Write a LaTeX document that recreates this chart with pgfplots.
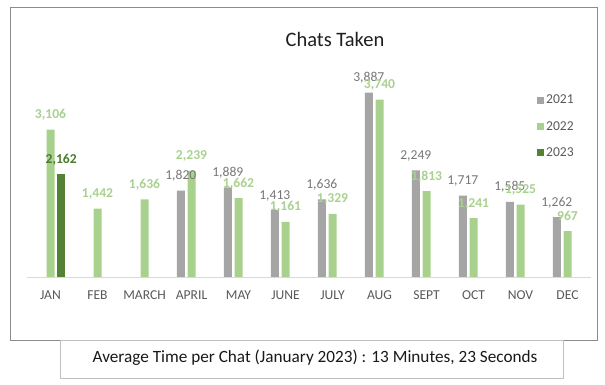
\documentclass[border=0pt]{standalone}
\usepackage{fontspec}
\setmainfont{Carlito}
\usepackage{pgfplots}
\pgfplotsset{compat=1.18}
\definecolor{c21}{HTML}{A5A5A5}
\definecolor{c22}{HTML}{A9D18E}
\definecolor{c23}{HTML}{548235}
\definecolor{t23}{HTML}{4A7A2E}
\definecolor{tick}{HTML}{595959}
\definecolor{lab21}{HTML}{767676}
\definecolor{frame}{HTML}{8C8C8C}
\definecolor{boxc}{HTML}{BFBFBF}
\begin{document}
\begin{tikzpicture}[x=1pt,y=1pt]
\path (0,0) rectangle (605,385);
\draw[frame, line width=0.8pt] (10.5,45) rectangle (597,378);
\node[text=black!88] at (335,345.5) {\fontsize{20.5}{24}\selectfont Chats Taken};
\begin{axis}[
  at={(27pt,108pt)}, anchor=south west,
  scale only axis, width=564pt, height=208.6pt,
  xmin=-0.5, xmax=11.5, ymin=0, ymax=4400,
  axis x line=bottom, hide y axis,
  x axis line style={draw=black!15, line width=0.8pt, -},
  major tick length=0pt,
  xtick={0,...,11},
  xticklabels={JAN,FEB,MARCH,APRIL,MAY,JUNE,JULY,AUG,SEPT,OCT,NOV,DEC},
  xticklabel style={font=\fontsize{13.6}{15}\selectfont, text=tick, anchor=base, yshift=-22.4pt},
  ybar, bar width=8pt,
  /pgf/number format/assume math mode=true,
  /pgf/number format/1000 sep={,},
  nodes near coords,
  every node near coord/.append style={anchor=base, yshift=11pt, font=\fontsize{13.6}{15}\selectfont},
  legend image code/.code={\fill[#1,draw=none] (0pt,-3.5pt) rectangle (7pt,3.5pt);},
  legend style={at={(0.904,0.872)}, anchor=north west, draw=none, fill=none,
    inner sep=0pt, outer sep=0pt, row sep=16pt,
    font=\fontsize{13.6}{15}\selectfont, text=tick,
    nodes={inner sep=0pt, outer sep=0pt}, /tikz/column 2/.style={column sep=0pt}},
  legend cell align=left,
  clip=false,
]
\addplot[fill=c21, draw=none, bar shift=-10.7pt,
  every node near coord/.append style={text=lab21}]
  coordinates {(3,1820) (4,1889) (5,1413) (6,1636) (7,3887) (8,2249) (9,1717) (10,1585) (11,1262)};
\addlegendentry{\,2021}
\addplot[fill=c22, draw=none, bar shift=0pt,
  every node near coord/.append style={text=c22, font=\fontsize{13.6}{15}\selectfont\bfseries}]
  coordinates {(0,3106) (1,1442) (2,1636) (3,2239) (4,1662) (5,1161) (6,1329) (7,3740) (8,1813) (9,1241) (10,1525) (11,967)};
\addlegendentry{\,2022}
\addplot[fill=c23, draw=none, bar shift=10.7pt,
  every node near coord/.append style={text=t23, font=\fontsize{13.6}{15}\selectfont\bfseries}]
  coordinates {(0,2162)};
\addlegendentry{\,2023}
\end{axis}
\draw[boxc, line width=0.8pt, fill=white] (60,7) rectangle (563,45);
\node[text=black!90] at (315,27.5) {\fontsize{17.2}{20}\selectfont Average Time per Chat (January 2023) : 13 Minutes, 23 Seconds};
\end{tikzpicture}
\end{document}
